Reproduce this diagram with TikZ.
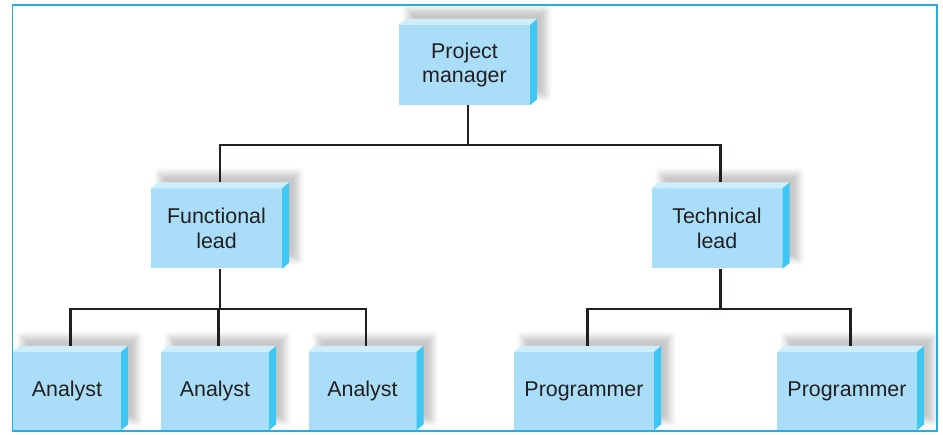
\documentclass[tikz,border=0pt]{standalone}
\usepackage{fontspec}
\setmainfont{Liberation Sans}
\usetikzlibrary{calc,backgrounds,shadows.blur}

\definecolor{boxfront}{HTML}{AADEF8}
\definecolor{boxtop}{HTML}{CFEEFC}
\definecolor{boxside}{HTML}{3EC6F4}
\definecolor{framecol}{HTML}{29ABE2}
\definecolor{inkcol}{HTML}{231F20}

\tikzset{
  orgbox/.style={rectangle, fill=boxfront, inner sep=0pt, align=center,
    minimum width=#1, font=\fontsize{21.5}{25}\selectfont, text=inkcol},
  tallbox/.style={orgbox=131bp, minimum height=80bp},
  lowbox/.style={orgbox=#1, minimum height=78bp},
  link/.style={draw=inkcol, line width=2.5bp}
}

% top and side faces, shadow, and the points where the links meet a box
\newcommand{\boxdepth}[1]{%
  \fill[boxtop] (#1.north west) -- ++(7,-6) -- ($(#1.north east)+(7,-6)$) -- (#1.north east) -- cycle;
  \fill[boxside] (#1.north east) -- ++(7,-6) -- ($(#1.south east)+(7,-6)$) -- (#1.south east) -- cycle;
  \coordinate (#1-top) at ($(#1.north)+(3.5,-6)$);
  \coordinate (#1-bot) at ($(#1.south)+(3.5,0)$);
  \begin{pgfonlayer}{background}
    \path[blur shadow={shadow xshift=9bp, shadow yshift=9bp,
      shadow blur radius=6bp, shadow opacity=22}]
      (#1.south west) rectangle ($(#1.north east)+(7,-6)$);
  \end{pgfonlayer}}

\begin{document}
\begin{tikzpicture}[x=1bp,y=-1bp]
\useasboundingbox (0,0) rectangle (943,435);

% boxes
\node[tallbox] (pm) at (464.5,65) {Project\\manager};
\boxdepth{pm}
\node[tallbox] (fl) at (216.5,228.5) {Functional\\lead};
\boxdepth{fl}
\node[tallbox] (tl) at (717,228.5) {Technical\\lead};
\boxdepth{tl}
\node[lowbox=108bp] (an1) at (67,391) {Analyst};
\boxdepth{an1}
\node[lowbox=108bp] (an2) at (215,391) {Analyst};
\boxdepth{an2}
\node[lowbox=108bp] (an3) at (362.5,391) {Analyst};
\boxdepth{an3}
\node[lowbox=140bp] (pr1) at (584,391) {Programmer};
\boxdepth{pr1}
\node[lowbox=140bp] (pr2) at (847,391) {Programmer};
\boxdepth{pr2}

% links
\coordinate (bus1) at (0,145);
\coordinate (bus2) at (0,309);
\draw[link] (pm-bot) -- (pm-bot |- bus1);
\draw[link] (fl-top) |- (tl-top |- bus1) -- (tl-top);
\draw[link] (fl-bot) -- (fl-bot |- bus2);
\draw[link] (an1-top) |- (an3-top |- bus2) -- (an3-top);
\draw[link] (an2-top) -- (an2-top |- bus2);
\draw[link] (tl-bot) -- (tl-bot |- bus2);
\draw[link] (pr1-top) |- (pr2-top |- bus2) -- (pr2-top);

% frame
\draw[framecol, line width=1.5bp] (12.5,5) rectangle (937,431);
\end{tikzpicture}
\end{document}
